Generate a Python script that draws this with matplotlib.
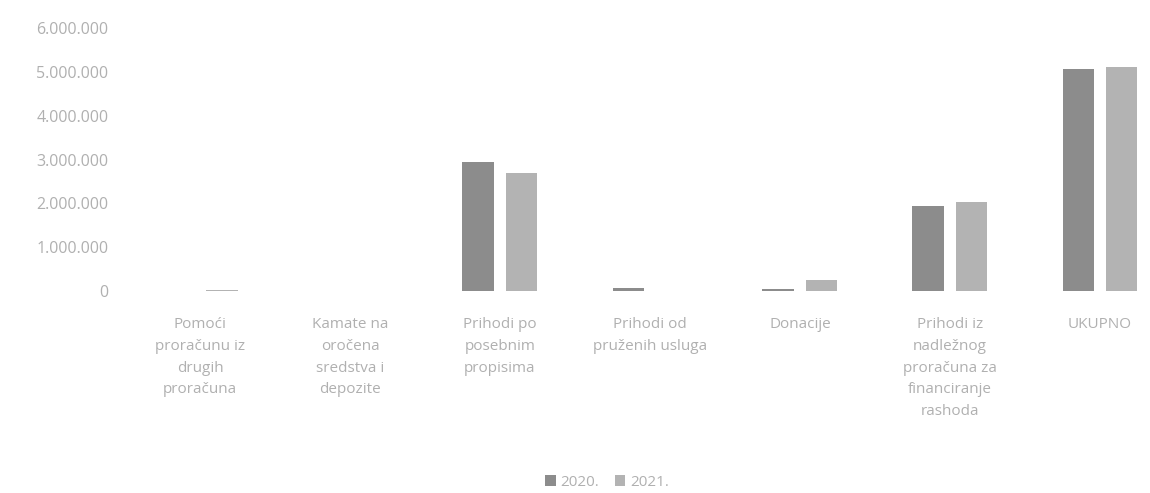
import numpy as np
import matplotlib.pyplot as plt
from matplotlib.ticker import FuncFormatter

# ============================================================
# DATA
# ============================================================
categories = ['Pomoći\nproračunu iz\ndrugih\nproračuna',
              'Kamate na\noročena\nsredstva i\ndepozite',
              'Prihodi po\nposebnim\npropisima',
              'Prihodi od\npruženih usluga',
              'Donacije',
              'Prihodi iz\nnadležnog\nproračuna za\nfinanciranje\nrashoda',
              'UKUPNO']
values_2020 = [0, 0, 2940000, 60000, 40000, 1930000, 5060000]
values_2021 = [25000, 0, 2690000, 10000, 250000, 2040000, 5110000]
series_labels = ['2020.', '2021.']

text_color = '#b0b0b0'
plt.rcParams['font.family'] = ['Open Sans', 'DejaVu Sans']

# ============================================================
# CHART
# ============================================================
fig = plt.figure(figsize=(11.5, 4.93), dpi=100)
ax = fig.add_axes([125 / 1150, 202 / 493, 1050 / 1150, 263 / 493])

x = np.arange(len(categories))
width = 0.21
ax.bar(x - 0.145, values_2020, width, color='#8c8c8c', label=series_labels[0])
ax.bar(x + 0.145, values_2021, width, color='#b3b3b3', label=series_labels[1])

ax.set_xlim(-0.5, len(categories) - 0.5)
ax.set_ylim(0, 6000000)
ax.set_yticks(np.arange(0, 6000001, 1000000))
ax.yaxis.set_major_formatter(FuncFormatter(lambda v, p: f'{int(v):,}'.replace(',', '.')))
ax.set_xticks(x)
ax.set_xticklabels(categories, fontsize=11, color=text_color, linespacing=1.6)
ax.tick_params(axis='y', labelsize=11.5, labelcolor=text_color, length=0, pad=12)
ax.tick_params(axis='x', length=0, pad=19)
for s in ax.spines.values():
    s.set_visible(False)

fig.legend(loc='center', bbox_to_anchor=(607 / 1150, 1 - 482 / 493), ncol=2,
           frameon=False, fontsize=11, labelcolor=text_color,
           handlelength=0.7, handleheight=0.7, handletextpad=0.3, columnspacing=1.0,
           borderpad=0.2)

plt.savefig('out.png', dpi=100)
